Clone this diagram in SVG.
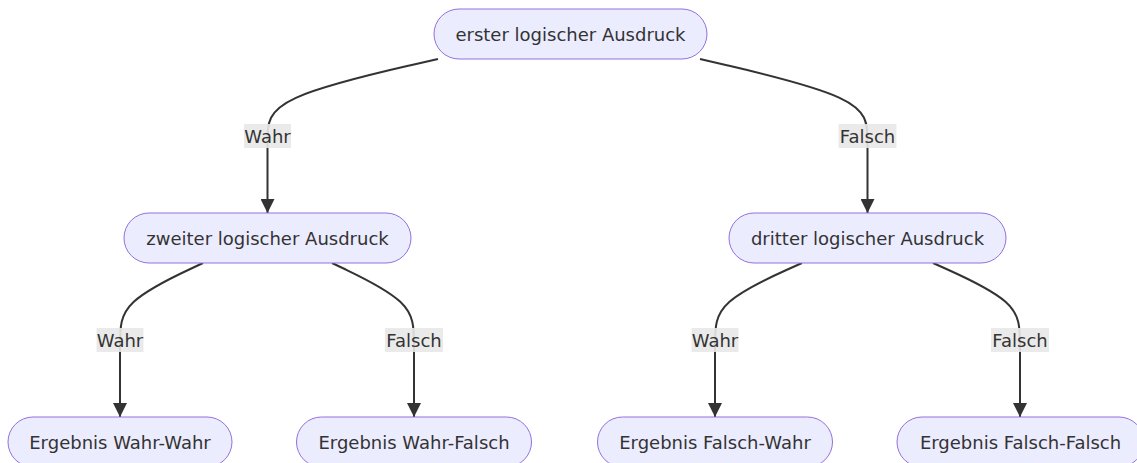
<svg xmlns="http://www.w3.org/2000/svg" width="1137" height="463" viewBox="0 0 1137 463">
  <style>
    .node rect { fill: #ECECFF; stroke: #9370DB; stroke-width: 1; }
    .node text, .label text { font-family: "DejaVu Sans", Verdana, sans-serif; font-size: 18px; fill: #333333; text-anchor: middle; dominant-baseline: central; }
    .edge { fill: none; stroke: #333333; stroke-width: 2; }
    .label rect { fill: #E8E8E8; fill-opacity: 0.9; }
  </style>
  <defs>
    <marker id="arrow" viewBox="0 0 10 10" refX="10" refY="5" markerWidth="15" markerHeight="14" markerUnits="userSpaceOnUse" orient="auto">
      <path d="M0,0 L10,5 L0,10 z" fill="#333333"/>
    </marker>
  </defs>
  <rect width="1137" height="463" fill="#ffffff"/>

  <g id="connectors">
    <path class="edge" marker-end="url(#arrow)" d="M438,59 L409.6,65.5 C381.2,72 324.3,85 295.9,97.8 C267.5,110.7 267.5,123.3 267.5,142.5 L267.5,213"/>
    <path class="edge" marker-end="url(#arrow)" d="M700,59 L727.9,65.5 C755.8,72 811.7,85 839.6,97.8 C867.5,110.7 867.5,123.3 867.5,142.5 L867.5,213"/>
    <path class="edge" marker-end="url(#arrow)" d="M203,263 L189.2,269.5 C175.3,276 147.7,289 133.8,301.8 C120,314.7 120,327.3 120,346.5 L120,417"/>
    <path class="edge" marker-end="url(#arrow)" d="M332,263 L345.7,269.5 C359.3,276 386.7,289 400.3,301.8 C414,314.7 414,327.3 414,346.5 L414,417"/>
    <path class="edge" marker-end="url(#arrow)" d="M802,263 L787.5,269.5 C773,276 744,289 729.5,301.8 C715,314.7 715,327.3 715,346.5 L715,417"/>
    <path class="edge" marker-end="url(#arrow)" d="M933,263 L947.5,269.5 C962,276 991,289 1005.5,301.8 C1020,314.7 1020,327.3 1020,346.5 L1020,417"/>

    <g class="label"><rect x="244" y="124" width="47" height="24"/><text x="267.5" y="136">Wahr</text></g>
    <g class="label"><rect x="838.5" y="124" width="58" height="24"/><text x="867.5" y="136">Falsch</text></g>
    <g class="label"><rect x="96.5" y="328" width="47" height="24"/><text x="120" y="340">Wahr</text></g>
    <g class="label"><rect x="385" y="328" width="58" height="24"/><text x="414" y="340">Falsch</text></g>
    <g class="label"><rect x="691.5" y="328" width="47" height="24"/><text x="715" y="340">Wahr</text></g>
    <g class="label"><rect x="991" y="328" width="58" height="24"/><text x="1020" y="340">Falsch</text></g>
  </g>

  <g id="n-erster" class="node">
    <rect x="434" y="9" width="273" height="50" rx="25" ry="25"/>
    <text x="570.5" y="34">erster logischer Ausdruck</text>
  </g>
  <g id="n-zweiter" class="node">
    <rect x="124" y="213" width="287" height="50" rx="25" ry="25"/>
    <text x="267.5" y="238">zweiter logischer Ausdruck</text>
  </g>
  <g id="n-dritter" class="node">
    <rect x="729" y="213" width="277" height="50" rx="25" ry="25"/>
    <text x="867.5" y="238">dritter logischer Ausdruck</text>
  </g>
  <g id="n-ww" class="node">
    <rect x="8" y="417" width="224" height="50" rx="25" ry="25"/>
    <text x="120" y="442">Ergebnis Wahr-Wahr</text>
  </g>
  <g id="n-wf" class="node">
    <rect x="296.5" y="417" width="235" height="50" rx="25" ry="25"/>
    <text x="414" y="442">Ergebnis Wahr-Falsch</text>
  </g>
  <g id="n-fw" class="node">
    <rect x="597.5" y="417" width="235" height="50" rx="25" ry="25"/>
    <text x="715" y="442">Ergebnis Falsch-Wahr</text>
  </g>
  <g id="n-ff" class="node">
    <rect x="897" y="417" width="247" height="50" rx="25" ry="25"/>
    <text x="1020.5" y="442">Ergebnis Falsch-Falsch</text>
  </g>
</svg>
